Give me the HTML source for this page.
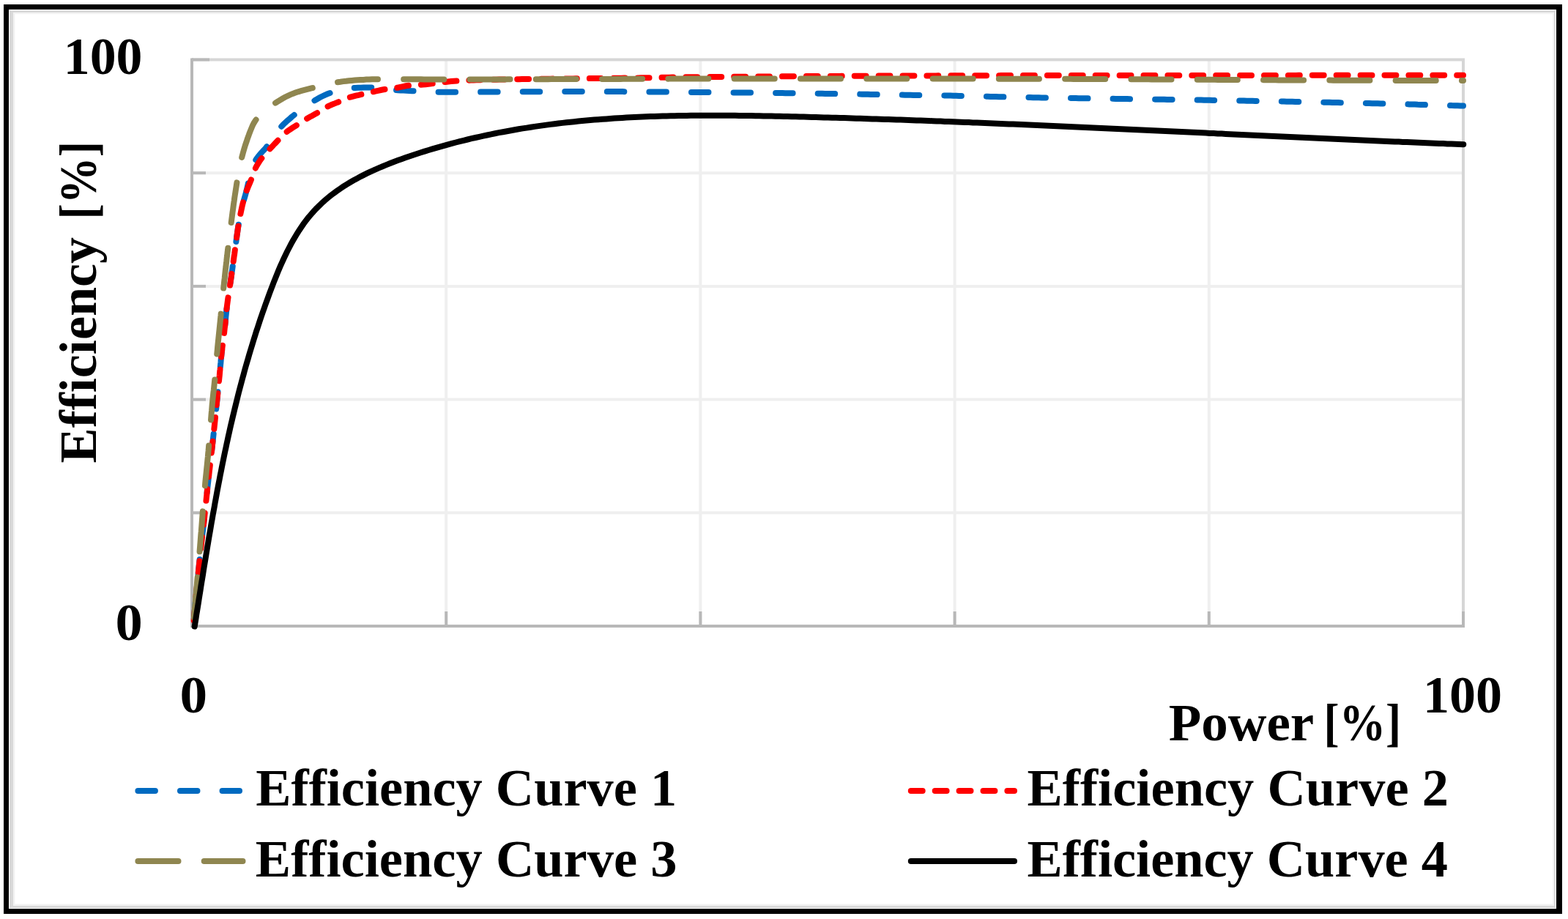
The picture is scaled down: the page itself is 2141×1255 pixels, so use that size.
<!DOCTYPE html><html><head><meta charset="utf-8"><title>Efficiency curves</title><style>html,body{margin:0;padding:0;background:#fff;width:2141px;height:1255px;overflow:hidden}svg{display:block}</style></head><body>
<svg width="2141" height="1255" viewBox="0 0 2141 1255">
<rect x="0" y="0" width="2141" height="1255" fill="#fff"/>
<path d="M5,6H2133V1248H5Z M12,13V1241H2125V13Z" fill="#000" fill-rule="evenodd"/>
<path d="M13,14H2124V1240H13Z M18,17.2V1237H2122V17.2Z" fill="#d9d9d9" fill-rule="evenodd"/>
<path d="M18,17.2H2122V1237H18Z M20.4,19.2V1234.4H2120.2V19.2Z" fill="#f2f2f2" fill-rule="evenodd"/>
<line x1="262.0" y1="700.3" x2="1998.0" y2="700.3" stroke="#efefef" stroke-width="4"/>
<line x1="262.0" y1="545.6" x2="1998.0" y2="545.6" stroke="#efefef" stroke-width="4"/>
<line x1="262.0" y1="390.9" x2="1998.0" y2="390.9" stroke="#efefef" stroke-width="4"/>
<line x1="262.0" y1="236.2" x2="1998.0" y2="236.2" stroke="#efefef" stroke-width="4"/>
<line x1="609.2" y1="81.5" x2="609.2" y2="855.0" stroke="#efefef" stroke-width="4"/>
<line x1="956.4" y1="81.5" x2="956.4" y2="855.0" stroke="#efefef" stroke-width="4"/>
<line x1="1303.6" y1="81.5" x2="1303.6" y2="855.0" stroke="#efefef" stroke-width="4"/>
<line x1="1650.8" y1="81.5" x2="1650.8" y2="855.0" stroke="#efefef" stroke-width="4"/>
<path d="M262.0,81.5H1998.0V855.0" fill="none" stroke="#d6d6d6" stroke-width="4"/>
<line x1="262.0" y1="855.0" x2="281.0" y2="855.0" stroke="#b8b8b8" stroke-width="4"/>
<line x1="262.0" y1="700.3" x2="281.0" y2="700.3" stroke="#b8b8b8" stroke-width="4"/>
<line x1="262.0" y1="545.6" x2="281.0" y2="545.6" stroke="#b8b8b8" stroke-width="4"/>
<line x1="262.0" y1="390.9" x2="281.0" y2="390.9" stroke="#b8b8b8" stroke-width="4"/>
<line x1="262.0" y1="236.2" x2="281.0" y2="236.2" stroke="#b8b8b8" stroke-width="4"/>
<line x1="262.0" y1="81.5" x2="286.0" y2="81.5" stroke="#b8b8b8" stroke-width="4"/>
<line x1="262.0" y1="855.0" x2="262.0" y2="835.0" stroke="#b8b8b8" stroke-width="4"/>
<line x1="609.2" y1="855.0" x2="609.2" y2="835.0" stroke="#b8b8b8" stroke-width="4"/>
<line x1="956.4" y1="855.0" x2="956.4" y2="835.0" stroke="#b8b8b8" stroke-width="4"/>
<line x1="1303.6" y1="855.0" x2="1303.6" y2="835.0" stroke="#b8b8b8" stroke-width="4"/>
<line x1="1650.8" y1="855.0" x2="1650.8" y2="835.0" stroke="#b8b8b8" stroke-width="4"/>
<line x1="1998.0" y1="855.0" x2="1998.0" y2="835.0" stroke="#b8b8b8" stroke-width="4"/>
<path d="M262.0,79.5V855.0H2000.0" fill="none" stroke="#b8b8b8" stroke-width="4"/>
<path d="M264.0,855.0 L264.3,851.1 L264.7,847.2 L265.0,843.4 L265.3,839.5 L265.7,835.6 L266.0,831.7 L266.4,827.9 L266.7,824.0 L267.1,820.1 L267.5,816.2 L267.8,812.4 L268.2,808.5 L268.6,804.6 L268.9,800.8 L269.3,796.9 L269.7,793.0 L270.1,789.1 L270.5,785.3 L270.8,781.4 L271.2,777.5 L271.6,773.7 L272.0,769.8 L272.4,765.9 L272.8,762.0 L273.2,758.2 L273.7,754.3 L274.1,750.4 L274.5,746.6 L275.0,742.7 L275.4,738.8 L275.9,735.0 L276.3,731.1 L276.7,727.2 L277.2,723.4 L277.6,719.5 L278.1,715.6 L278.5,711.8 L278.9,707.9 L279.4,704.0 L279.8,700.2 L280.2,696.3 L280.6,692.4 L281.0,688.6 L281.4,684.7 L281.8,680.8 L282.2,677.0 L282.6,673.1 L283.0,669.2 L283.4,665.3 L283.8,661.5 L284.3,657.6 L284.7,653.7 L285.1,649.9 L285.6,646.0 L286.0,642.2 L286.5,638.3 L286.9,634.4 L287.4,630.6 L287.8,626.7 L288.3,622.8 L288.7,619.0 L289.2,615.1 L289.6,611.2 L290.0,607.4 L290.5,603.5 L290.9,599.6 L291.3,595.8 L291.7,591.9 L292.1,588.0 L292.6,584.2 L293.0,580.3 L293.4,576.4 L293.8,572.5 L294.2,568.7 L294.5,564.8 L294.9,560.9 L295.3,557.1 L295.7,553.2 L296.1,549.3 L296.5,545.4 L296.8,541.6 L297.2,537.7 L297.6,533.8 L298.0,530.0 L298.4,526.1 L298.8,522.2 L299.2,518.3 L299.6,514.5 L299.9,510.6 L300.3,506.7 L300.7,502.9 L301.0,499.0 L301.4,495.1 L301.7,491.2 L302.1,487.4 L302.5,483.5 L303.0,479.6 L303.4,475.8 L303.9,471.9 L304.4,468.0 L304.9,464.2 L305.3,460.3 L305.8,456.5 L306.3,452.6 L306.7,448.7 L307.2,444.9 L307.6,441.0 L308.0,437.1 L308.3,433.2 L308.7,429.4 L309.1,425.5 L309.6,421.6 L310.0,417.8 L310.5,413.9 L311.0,410.1 L311.5,406.2 L312.1,402.4 L312.7,398.5 L313.3,394.7 L313.9,390.8 L314.4,387.0 L315.0,383.1 L315.6,379.3 L316.1,375.4 L316.6,371.6 L317.2,367.7 L317.7,363.9 L318.3,360.0 L318.8,356.1 L319.3,352.3 L319.9,348.4 L320.4,344.6 L321.0,340.7 L321.5,336.9 L322.0,333.0 L322.5,329.2 L323.0,325.3 L323.5,321.4 L324.1,317.6 L324.6,313.7 L325.2,309.9 L325.9,306.1 L326.5,302.2 L327.2,298.4 L327.9,294.6 L328.7,290.7 L329.5,286.9 L330.3,283.1 L331.2,279.4 L332.3,275.6 L333.4,271.9 L334.5,268.2 L335.5,264.4 L336.5,260.6 L337.4,256.8 L338.3,253.0 L339.1,249.3 L340.1,245.5 L341.0,241.7 L342.1,238.0 L343.2,234.2 L344.3,230.4 L345.6,226.7 L347.0,223.1 L348.5,219.7 L350.5,216.4 L352.8,213.4 L355.3,210.4 L358.0,207.4 L360.7,204.5 L363.3,201.5 L365.7,198.4 L367.9,195.2 L370.1,192.0 L372.2,188.7 L374.4,185.4 L376.6,182.2 L378.9,179.1 L381.3,176.1 L383.8,173.2 L386.5,170.4 L389.3,167.7 L392.2,165.1 L395.2,162.5 L398.1,159.9 L401.1,157.5 L404.2,155.0 L407.2,152.6 L410.3,150.2 L413.4,147.9 L416.6,145.6 L419.8,143.4 L423.1,141.2 L426.3,139.2 L429.7,137.2 L433.1,135.3 L436.5,133.3 L440.0,131.5 L443.5,129.8 L447.1,128.3 L450.7,127.0 L454.4,125.9 L458.1,124.7 L461.9,123.6 L465.7,122.6 L469.5,121.7 L473.4,121.0 L477.2,120.4 L481.1,120.1 L484.9,119.9 L488.8,119.8 L492.7,119.7 L496.6,119.5 L500.5,119.5 L504.4,119.4 L508.3,119.4 L512.2,119.5 L516.0,119.9 L519.9,120.4 L523.7,120.9 L527.6,121.5 L531.5,122.1 L535.3,122.6 L539.2,122.9 L543.1,123.2 L547.0,123.4 L550.9,123.6 L554.7,123.8 L558.6,124.0 L562.5,124.2 L566.4,124.4 L570.3,124.6 L574.2,124.8 L578.1,125.0 L582.0,125.3 L585.8,125.4 L589.7,125.6 L593.6,125.7 L597.5,125.7 L601.4,125.7 L605.3,125.7 L609.2,125.7 L613.1,125.7 L616.9,125.7 L620.8,125.7 L624.7,125.7 L628.6,125.7 L632.5,125.6 L636.4,125.6 L640.3,125.6 L644.2,125.6 L648.1,125.6 L652.0,125.6 L655.8,125.6 L659.7,125.5 L663.6,125.5 L667.5,125.5 L671.4,125.5 L675.3,125.5 L679.2,125.4 L683.1,125.4 L687.0,125.4 L690.9,125.4 L694.8,125.4 L698.6,125.3 L702.5,125.3 L706.4,125.3 L710.3,125.3 L714.2,125.3 L718.1,125.2 L722.0,125.2 L725.9,125.2 L729.8,125.2 L733.7,125.2 L737.6,125.2 L741.5,125.1 L745.3,125.1 L749.2,125.1 L753.1,125.1 L757.0,125.1 L760.9,125.1 L764.8,125.1 L768.7,125.0 L772.6,125.0 L776.5,125.0 L780.4,125.0 L784.3,125.0 L788.1,125.0 L792.0,125.0 L795.9,125.0 L799.8,125.0 L803.7,125.0 L807.6,125.0 L811.5,125.0 L815.4,125.0 L819.3,125.0 L823.2,125.0 L827.1,125.0 L830.9,125.1 L834.8,125.1 L838.7,125.1 L842.6,125.1 L846.5,125.1 L850.4,125.1 L854.3,125.2 L858.2,125.2 L862.1,125.2 L866.0,125.2 L869.9,125.3 L873.7,125.3 L877.6,125.3 L881.5,125.3 L885.4,125.4 L889.3,125.4 L893.2,125.4 L897.1,125.5 L901.0,125.5 L904.9,125.5 L908.8,125.6 L912.7,125.6 L916.5,125.6 L920.4,125.7 L924.3,125.7 L928.2,125.7 L932.1,125.8 L936.0,125.8 L939.9,125.8 L943.8,125.9 L947.7,125.9 L951.6,125.9 L955.4,126.0 L959.3,126.0 L963.2,126.1 L967.1,126.1 L971.0,126.1 L974.9,126.2 L978.8,126.2 L982.7,126.2 L986.6,126.3 L990.5,126.3 L994.4,126.3 L998.2,126.4 L1002.1,126.4 L1006.0,126.5 L1009.9,126.5 L1013.8,126.5 L1017.7,126.6 L1021.6,126.6 L1025.5,126.6 L1029.4,126.7 L1033.3,126.7 L1037.2,126.8 L1041.0,126.8 L1044.9,126.8 L1048.8,126.9 L1052.7,126.9 L1056.6,127.0 L1060.5,127.0 L1064.4,127.1 L1068.3,127.1 L1072.2,127.2 L1076.1,127.2 L1079.9,127.3 L1083.8,127.3 L1087.7,127.4 L1091.6,127.4 L1095.5,127.5 L1099.4,127.5 L1103.3,127.6 L1107.2,127.6 L1111.1,127.7 L1115.0,127.7 L1118.9,127.8 L1122.7,127.8 L1126.6,127.9 L1130.5,127.9 L1134.4,128.0 L1138.3,128.0 L1142.2,128.1 L1146.1,128.2 L1150.0,128.2 L1153.9,128.3 L1157.8,128.3 L1161.6,128.4 L1165.5,128.5 L1169.4,128.5 L1173.3,128.6 L1177.2,128.7 L1181.1,128.7 L1185.0,128.8 L1188.9,128.9 L1192.8,128.9 L1196.7,129.0 L1200.5,129.1 L1204.4,129.1 L1208.3,129.2 L1212.2,129.3 L1216.1,129.3 L1220.0,129.4 L1223.9,129.5 L1227.8,129.5 L1231.7,129.6 L1235.6,129.7 L1239.5,129.7 L1243.3,129.8 L1247.2,129.9 L1251.1,129.9 L1255.0,130.0 L1258.9,130.0 L1262.8,130.1 L1266.7,130.2 L1270.6,130.2 L1274.5,130.3 L1278.4,130.3 L1282.2,130.4 L1286.1,130.4 L1290.0,130.5 L1293.9,130.6 L1297.8,130.6 L1301.7,130.7 L1305.6,130.8 L1309.5,130.9 L1313.4,130.9 L1317.3,131.0 L1321.1,131.1 L1325.0,131.2 L1328.9,131.3 L1332.8,131.4 L1336.7,131.5 L1340.6,131.6 L1344.5,131.7 L1348.4,131.8 L1352.3,131.9 L1356.2,132.0 L1360.0,132.1 L1363.9,132.2 L1367.8,132.3 L1371.7,132.4 L1375.6,132.5 L1379.5,132.6 L1383.4,132.7 L1387.3,132.7 L1391.2,132.8 L1395.0,132.9 L1398.9,133.0 L1402.8,133.1 L1406.7,133.1 L1410.6,133.2 L1414.5,133.3 L1418.4,133.3 L1422.3,133.4 L1426.2,133.5 L1430.1,133.5 L1433.9,133.6 L1437.8,133.7 L1441.7,133.7 L1445.6,133.8 L1449.5,133.8 L1453.4,133.9 L1457.3,134.0 L1461.2,134.0 L1465.1,134.1 L1469.0,134.1 L1472.9,134.2 L1476.7,134.2 L1480.6,134.3 L1484.5,134.3 L1488.4,134.4 L1492.3,134.5 L1496.2,134.5 L1500.1,134.6 L1504.0,134.6 L1507.9,134.7 L1511.8,134.7 L1515.6,134.8 L1519.5,134.8 L1523.4,134.9 L1527.3,134.9 L1531.2,135.0 L1535.1,135.0 L1539.0,135.1 L1542.9,135.2 L1546.8,135.2 L1550.7,135.3 L1554.6,135.3 L1558.4,135.4 L1562.3,135.4 L1566.2,135.5 L1570.1,135.5 L1574.0,135.6 L1577.9,135.7 L1581.8,135.7 L1585.7,135.8 L1589.6,135.8 L1593.5,135.9 L1597.3,136.0 L1601.2,136.0 L1605.1,136.1 L1609.0,136.1 L1612.9,136.2 L1616.8,136.3 L1620.7,136.3 L1624.6,136.4 L1628.5,136.5 L1632.4,136.5 L1636.2,136.6 L1640.1,136.6 L1644.0,136.7 L1647.9,136.8 L1651.8,136.8 L1655.7,136.9 L1659.6,137.0 L1663.5,137.0 L1667.4,137.1 L1671.3,137.2 L1675.2,137.2 L1679.0,137.3 L1682.9,137.3 L1686.8,137.4 L1690.7,137.5 L1694.6,137.5 L1698.5,137.6 L1702.4,137.7 L1706.3,137.7 L1710.2,137.8 L1714.1,137.9 L1717.9,137.9 L1721.8,138.0 L1725.7,138.1 L1729.6,138.2 L1733.5,138.2 L1737.4,138.3 L1741.3,138.4 L1745.2,138.4 L1749.1,138.5 L1753.0,138.6 L1756.8,138.7 L1760.7,138.7 L1764.6,138.8 L1768.5,138.9 L1772.4,138.9 L1776.3,139.0 L1780.2,139.1 L1784.1,139.2 L1788.0,139.3 L1791.9,139.3 L1795.7,139.4 L1799.6,139.5 L1803.5,139.6 L1807.4,139.7 L1811.3,139.7 L1815.2,139.8 L1819.1,139.9 L1823.0,140.0 L1826.9,140.1 L1830.8,140.2 L1834.6,140.2 L1838.5,140.3 L1842.4,140.4 L1846.3,140.5 L1850.2,140.6 L1854.1,140.7 L1858.0,140.8 L1861.9,140.9 L1865.8,141.0 L1869.6,141.1 L1873.5,141.2 L1877.4,141.3 L1881.3,141.3 L1885.2,141.4 L1889.1,141.5 L1893.0,141.6 L1896.9,141.7 L1900.8,141.8 L1904.7,141.9 L1908.5,142.0 L1912.4,142.1 L1916.3,142.2 L1920.2,142.3 L1924.1,142.4 L1928.0,142.5 L1931.9,142.6 L1935.8,142.8 L1939.7,142.9 L1943.5,143.0 L1947.4,143.1 L1951.3,143.2 L1955.2,143.3 L1959.1,143.4 L1963.0,143.5 L1966.9,143.6 L1970.8,143.7 L1974.7,143.8 L1978.6,143.9 L1982.4,144.1 L1986.3,144.2 L1990.2,144.3 L1994.1,144.4 L1998.0,144.5" fill="none" stroke="#006AC0" stroke-width="8" stroke-linecap="round" stroke-dasharray="23.50 34.07" stroke-dashoffset="47.29"/>
<path d="M264.0,855.0 L264.3,851.1 L264.7,847.3 L265.0,843.4 L265.3,839.6 L265.7,835.7 L266.0,831.9 L266.4,828.0 L266.7,824.1 L267.1,820.3 L267.4,816.4 L267.8,812.6 L268.2,808.7 L268.5,804.9 L268.9,801.0 L269.3,797.2 L269.7,793.3 L270.0,789.5 L270.4,785.6 L270.8,781.8 L271.2,777.9 L271.6,774.0 L272.0,770.2 L272.4,766.3 L272.8,762.5 L273.2,758.6 L273.6,754.8 L274.0,751.0 L274.5,747.1 L274.9,743.3 L275.3,739.4 L275.8,735.6 L276.2,731.7 L276.7,727.9 L277.1,724.0 L277.6,720.2 L278.0,716.3 L278.4,712.5 L278.9,708.6 L279.3,704.8 L279.7,700.9 L280.1,697.1 L280.5,693.2 L280.9,689.4 L281.3,685.5 L281.7,681.7 L282.1,677.8 L282.5,674.0 L282.9,670.1 L283.3,666.3 L283.7,662.4 L284.2,658.6 L284.6,654.7 L285.0,650.9 L285.5,647.0 L285.9,643.2 L286.4,639.3 L286.8,635.5 L287.3,631.7 L287.7,627.8 L288.2,624.0 L288.6,620.1 L289.0,616.3 L289.5,612.4 L289.9,608.6 L290.3,604.7 L290.7,600.9 L291.2,597.0 L291.6,593.2 L292.0,589.3 L292.4,585.5 L292.8,581.6 L293.2,577.8 L293.6,573.9 L294.0,570.1 L294.4,566.2 L294.8,562.4 L295.2,558.5 L295.5,554.7 L295.9,550.8 L296.3,547.0 L296.7,543.1 L297.1,539.3 L297.5,535.4 L297.9,531.6 L298.2,527.7 L298.6,523.8 L299.0,520.0 L299.4,516.1 L299.8,512.3 L300.1,508.4 L300.5,504.6 L300.8,500.7 L301.2,496.9 L301.6,493.0 L301.9,489.2 L302.3,485.3 L302.7,481.5 L303.2,477.6 L303.6,473.8 L304.1,469.9 L304.6,466.1 L305.1,462.2 L305.6,458.4 L306.1,454.6 L306.5,450.7 L306.9,446.9 L307.4,443.0 L307.8,439.2 L308.1,435.3 L308.5,431.5 L308.9,427.6 L309.3,423.8 L309.7,419.9 L310.2,416.1 L310.7,412.2 L311.2,408.4 L311.8,404.6 L312.4,400.7 L313.0,396.9 L313.5,393.1 L314.1,389.3 L314.7,385.4 L315.2,381.6 L315.8,377.8 L316.3,373.9 L316.9,370.1 L317.4,366.3 L317.9,362.4 L318.5,358.6 L319.0,354.7 L319.5,350.9 L320.1,347.1 L320.6,343.2 L321.1,339.4 L321.7,335.6 L322.2,331.7 L322.7,327.9 L323.2,324.1 L323.7,320.2 L324.3,316.4 L324.8,312.6 L325.4,308.7 L326.1,304.9 L326.7,301.1 L327.4,297.3 L328.1,293.5 L328.9,289.7 L329.7,285.9 L330.5,282.1 L331.4,278.4 L332.4,274.6 L333.5,270.9 L334.6,267.2 L335.7,263.5 L337.0,259.8 L338.4,256.2 L339.9,252.7 L341.4,249.1 L342.9,245.5 L344.3,241.9 L345.6,238.2 L346.8,234.5 L348.3,230.9 L349.9,227.5 L351.9,224.1 L354.0,220.8 L356.2,217.6 L358.5,214.6 L361.0,211.6 L363.6,208.7 L366.2,205.9 L368.8,203.0 L371.5,200.2 L374.1,197.4 L376.8,194.6 L379.5,191.8 L382.2,189.0 L384.9,186.2 L387.6,183.4 L390.5,180.9 L393.5,178.5 L396.7,176.4 L400.0,174.2 L403.3,172.2 L406.5,170.0 L409.8,167.9 L413.0,165.8 L416.3,163.7 L419.6,161.7 L423.0,159.8 L426.4,158.0 L429.8,156.1 L433.2,154.2 L436.5,152.2 L439.7,150.1 L443.0,148.0 L446.3,146.0 L449.7,144.3 L453.3,142.8 L456.9,141.4 L460.5,139.9 L464.1,138.5 L467.6,136.9 L471.2,135.2 L474.7,133.7 L478.4,132.6 L482.1,131.6 L485.9,130.6 L489.7,129.8 L493.5,128.9 L497.2,128.1 L501.0,127.2 L504.8,126.4 L508.6,125.6 L512.4,124.7 L516.1,123.9 L519.9,123.0 L523.7,122.3 L527.5,121.6 L531.4,121.1 L535.2,120.7 L539.1,120.3 L542.9,119.7 L546.7,118.9 L550.5,118.1 L554.3,117.3 L558.1,116.8 L562.0,116.5 L565.8,116.3 L569.7,116.1 L573.6,115.9 L577.4,115.6 L581.3,115.2 L585.1,114.8 L589.0,114.3 L592.8,113.9 L596.7,113.4 L600.5,112.9 L604.4,112.4 L608.2,111.9 L612.0,111.5 L615.9,111.1 L619.7,110.8 L623.6,110.6 L627.5,110.3 L631.3,110.1 L635.2,109.9 L639.1,109.7 L643.0,109.5 L646.8,109.4 L650.7,109.3 L654.6,109.2 L658.4,109.1 L662.3,109.0 L666.2,108.9 L670.0,108.8 L673.9,108.7 L677.8,108.7 L681.7,108.6 L685.5,108.5 L689.4,108.5 L693.3,108.4 L697.1,108.3 L701.0,108.3 L704.9,108.2 L708.8,108.2 L712.6,108.1 L716.5,108.1 L720.4,108.0 L724.2,108.0 L728.1,107.9 L732.0,107.9 L735.9,107.8 L739.7,107.8 L743.6,107.8 L747.5,107.7 L751.3,107.7 L755.2,107.6 L759.1,107.6 L763.0,107.6 L766.8,107.5 L770.7,107.5 L774.6,107.5 L778.4,107.4 L782.3,107.4 L786.2,107.3 L790.1,107.3 L793.9,107.3 L797.8,107.2 L801.7,107.2 L805.5,107.1 L809.4,107.1 L813.3,107.1 L817.2,107.0 L821.0,107.0 L824.9,106.9 L828.8,106.9 L832.6,106.8 L836.5,106.8 L840.4,106.8 L844.3,106.7 L848.1,106.7 L852.0,106.6 L855.9,106.6 L859.7,106.5 L863.6,106.5 L867.5,106.4 L871.4,106.4 L875.2,106.3 L879.1,106.3 L883.0,106.2 L886.8,106.2 L890.7,106.1 L894.6,106.1 L898.5,106.0 L902.3,105.9 L906.2,105.8 L910.1,105.8 L913.9,105.7 L917.8,105.6 L921.7,105.6 L925.6,105.5 L929.4,105.4 L933.3,105.4 L937.2,105.3 L941.0,105.3 L944.9,105.2 L948.8,105.2 L952.7,105.2 L956.5,105.1 L960.4,105.1 L964.3,105.1 L968.1,105.0 L972.0,105.0 L975.9,105.0 L979.8,104.9 L983.6,104.9 L987.5,104.9 L991.4,104.9 L995.2,104.8 L999.1,104.8 L1003.0,104.8 L1006.9,104.7 L1010.7,104.7 L1014.6,104.7 L1018.5,104.7 L1022.3,104.6 L1026.2,104.6 L1030.1,104.6 L1034.0,104.6 L1037.8,104.5 L1041.7,104.5 L1045.6,104.5 L1049.4,104.5 L1053.3,104.4 L1057.2,104.4 L1061.1,104.4 L1064.9,104.4 L1068.8,104.3 L1072.7,104.3 L1076.5,104.3 L1080.4,104.3 L1084.3,104.2 L1088.2,104.2 L1092.0,104.2 L1095.9,104.2 L1099.8,104.1 L1103.6,104.1 L1107.5,104.1 L1111.4,104.1 L1115.3,104.0 L1119.1,104.0 L1123.0,104.0 L1126.9,104.0 L1130.7,104.0 L1134.6,103.9 L1138.5,103.9 L1142.4,103.9 L1146.2,103.9 L1150.1,103.8 L1154.0,103.8 L1157.8,103.8 L1161.7,103.8 L1165.6,103.8 L1169.5,103.7 L1173.3,103.7 L1177.2,103.7 L1181.1,103.7 L1184.9,103.7 L1188.8,103.6 L1192.7,103.6 L1196.6,103.6 L1200.4,103.6 L1204.3,103.6 L1208.2,103.6 L1212.0,103.6 L1215.9,103.5 L1219.8,103.5 L1223.7,103.5 L1227.5,103.5 L1231.4,103.5 L1235.3,103.5 L1239.2,103.5 L1243.0,103.5 L1246.9,103.4 L1250.8,103.4 L1254.6,103.4 L1258.5,103.4 L1262.4,103.4 L1266.3,103.4 L1270.1,103.4 L1274.0,103.4 L1277.9,103.4 L1281.7,103.3 L1285.6,103.3 L1289.5,103.3 L1293.4,103.3 L1297.2,103.3 L1301.1,103.3 L1305.0,103.3 L1308.8,103.3 L1312.7,103.3 L1316.6,103.3 L1320.5,103.2 L1324.3,103.2 L1328.2,103.2 L1332.1,103.2 L1335.9,103.2 L1339.8,103.2 L1343.7,103.2 L1347.6,103.2 L1351.4,103.2 L1355.3,103.2 L1359.2,103.2 L1363.0,103.2 L1366.9,103.1 L1370.8,103.1 L1374.7,103.1 L1378.5,103.1 L1382.4,103.1 L1386.3,103.1 L1390.1,103.1 L1394.0,103.1 L1397.9,103.1 L1401.8,103.1 L1405.6,103.1 L1409.5,103.1 L1413.4,103.1 L1417.2,103.1 L1421.1,103.1 L1425.0,103.1 L1428.9,103.1 L1432.7,103.1 L1436.6,103.1 L1440.5,103.1 L1444.3,103.0 L1448.2,103.0 L1452.1,103.0 L1456.0,103.0 L1459.8,103.0 L1463.7,103.0 L1467.6,103.0 L1471.5,103.0 L1475.3,103.0 L1479.2,103.0 L1483.1,103.0 L1486.9,103.0 L1490.8,103.0 L1494.7,103.0 L1498.6,103.0 L1502.4,103.0 L1506.3,103.0 L1510.2,103.0 L1514.0,103.0 L1517.9,103.0 L1521.8,103.0 L1525.7,103.0 L1529.5,103.0 L1533.4,103.0 L1537.3,103.0 L1541.1,103.0 L1545.0,103.0 L1548.9,103.0 L1552.8,103.0 L1556.6,103.0 L1560.5,102.9 L1564.4,102.9 L1568.2,102.9 L1572.1,102.9 L1576.0,102.9 L1579.9,102.9 L1583.7,102.9 L1587.6,102.9 L1591.5,102.9 L1595.3,102.9 L1599.2,102.9 L1603.1,102.9 L1607.0,102.9 L1610.8,102.9 L1614.7,102.9 L1618.6,102.9 L1622.4,102.9 L1626.3,102.9 L1630.2,102.9 L1634.1,102.9 L1637.9,102.9 L1641.8,102.9 L1645.7,102.9 L1649.5,102.9 L1653.4,102.9 L1657.3,102.9 L1661.2,102.9 L1665.0,102.9 L1668.9,102.9 L1672.8,102.9 L1676.7,102.9 L1680.5,102.9 L1684.4,102.9 L1688.3,102.9 L1692.1,102.9 L1696.0,102.9 L1699.9,102.9 L1703.8,102.9 L1707.6,102.9 L1711.5,102.9 L1715.4,102.9 L1719.2,102.9 L1723.1,102.9 L1727.0,102.9 L1730.9,102.9 L1734.7,102.9 L1738.6,102.9 L1742.5,102.9 L1746.3,102.9 L1750.2,102.9 L1754.1,102.9 L1758.0,102.9 L1761.8,102.9 L1765.7,102.9 L1769.6,102.9 L1773.4,102.8 L1777.3,102.8 L1781.2,102.8 L1785.1,102.8 L1788.9,102.8 L1792.8,102.8 L1796.7,102.8 L1800.5,102.8 L1804.4,102.8 L1808.3,102.8 L1812.2,102.8 L1816.0,102.8 L1819.9,102.8 L1823.8,102.8 L1827.6,102.8 L1831.5,102.8 L1835.4,102.8 L1839.3,102.8 L1843.1,102.8 L1847.0,102.8 L1850.9,102.8 L1854.7,102.8 L1858.6,102.8 L1862.5,102.8 L1866.4,102.8 L1870.2,102.8 L1874.1,102.8 L1878.0,102.8 L1881.8,102.8 L1885.7,102.8 L1889.6,102.8 L1893.5,102.8 L1897.3,102.8 L1901.2,102.8 L1905.1,102.8 L1909.0,102.8 L1912.8,102.8 L1916.7,102.8 L1920.6,102.8 L1924.4,102.8 L1928.3,102.8 L1932.2,102.8 L1936.1,102.8 L1939.9,102.8 L1943.8,102.8 L1947.7,102.8 L1951.5,102.8 L1955.4,102.8 L1959.3,102.8 L1963.2,102.8 L1967.0,102.8 L1970.9,102.8 L1974.8,102.8 L1978.6,102.8 L1982.5,102.8 L1986.4,102.8 L1990.3,102.8 L1994.1,102.8 L1998.0,102.8" fill="none" stroke="#FF0000" stroke-width="8" stroke-linecap="round" stroke-dasharray="15.90 17.00" stroke-dashoffset="25.33"/>
<path d="M264.0,855.0 L264.3,851.1 L264.7,847.1 L265.0,843.2 L265.3,839.3 L265.7,835.4 L266.0,831.4 L266.3,827.5 L266.7,823.6 L267.0,819.7 L267.3,815.7 L267.7,811.8 L268.0,807.9 L268.3,803.9 L268.7,800.0 L269.0,796.1 L269.3,792.2 L269.7,788.2 L270.0,784.3 L270.3,780.4 L270.6,776.4 L271.0,772.5 L271.3,768.6 L271.6,764.7 L271.9,760.7 L272.3,756.8 L272.6,752.9 L272.9,748.9 L273.2,745.0 L273.5,741.1 L273.8,737.2 L274.1,733.2 L274.4,729.3 L274.8,725.4 L275.1,721.4 L275.4,717.5 L275.7,713.6 L276.0,709.6 L276.3,705.7 L276.6,701.8 L276.9,697.9 L277.2,693.9 L277.6,690.0 L277.9,686.1 L278.2,682.1 L278.6,678.2 L278.9,674.3 L279.2,670.4 L279.6,666.4 L280.0,662.5 L280.3,658.6 L280.7,654.7 L281.1,650.7 L281.5,646.8 L281.9,642.9 L282.3,639.0 L282.7,635.1 L283.1,631.1 L283.5,627.2 L283.9,623.3 L284.2,619.4 L284.6,615.4 L284.9,611.5 L285.2,607.6 L285.5,603.6 L285.9,599.7 L286.2,595.8 L286.5,591.9 L286.8,587.9 L287.1,584.0 L287.5,580.1 L287.8,576.1 L288.1,572.2 L288.4,568.3 L288.7,564.4 L289.1,560.4 L289.4,556.5 L289.7,552.6 L290.1,548.6 L290.5,544.7 L290.9,540.8 L291.3,536.9 L291.8,533.0 L292.2,529.1 L292.6,525.1 L293.0,521.2 L293.4,517.3 L293.7,513.4 L294.0,509.4 L294.4,505.5 L294.7,501.6 L295.0,497.6 L295.4,493.7 L295.7,489.8 L296.0,485.9 L296.4,481.9 L296.8,478.0 L297.1,474.1 L297.5,470.2 L297.9,466.2 L298.3,462.3 L298.7,458.4 L299.1,454.5 L299.5,450.6 L299.9,446.6 L300.3,442.7 L300.7,438.8 L301.1,434.9 L301.5,430.9 L301.8,427.0 L302.2,423.1 L302.6,419.2 L303.0,415.3 L303.4,411.3 L303.8,407.4 L304.2,403.5 L304.6,399.6 L305.0,395.6 L305.4,391.7 L305.8,387.8 L306.2,383.9 L306.7,380.0 L307.1,376.0 L307.5,372.1 L307.9,368.2 L308.4,364.3 L308.8,360.4 L309.3,356.5 L309.7,352.5 L310.2,348.6 L310.6,344.7 L311.1,340.8 L311.5,336.9 L312.0,333.0 L312.5,329.0 L313.0,325.1 L313.5,321.2 L314.0,317.3 L314.5,313.4 L315.0,309.5 L315.5,305.6 L316.0,301.7 L316.5,297.8 L317.0,293.9 L317.5,290.0 L318.1,286.0 L318.6,282.1 L319.1,278.2 L319.7,274.3 L320.2,270.4 L320.8,266.5 L321.4,262.6 L322.0,258.7 L322.6,254.8 L323.2,250.9 L323.8,247.1 L324.5,243.2 L325.2,239.3 L325.9,235.4 L326.6,231.5 L327.4,227.6 L328.2,223.8 L329.0,219.9 L329.9,216.1 L330.9,212.3 L331.9,208.5 L333.0,204.7 L334.1,200.9 L335.3,197.1 L336.6,193.4 L337.8,189.7 L339.2,186.0 L340.5,182.2 L342.0,178.4 L343.5,174.7 L345.1,171.0 L346.9,167.6 L348.9,164.4 L351.1,161.4 L353.6,158.4 L356.4,155.6 L359.4,152.9 L362.6,150.4 L365.8,147.9 L369.0,145.5 L372.2,143.2 L375.4,141.0 L378.8,138.9 L382.1,136.8 L385.6,134.7 L389.1,132.8 L392.6,131.0 L396.2,129.4 L399.8,127.9 L403.4,126.6 L407.2,125.3 L411.0,124.2 L414.8,123.2 L418.6,122.2 L422.5,121.2 L426.3,120.2 L430.1,119.2 L433.9,118.1 L437.7,117.1 L441.6,116.1 L445.4,115.1 L449.2,114.3 L453.1,113.5 L456.9,112.9 L460.8,112.2 L464.7,111.7 L468.6,111.1 L472.6,110.7 L476.5,110.2 L480.4,109.9 L484.4,109.6 L488.3,109.3 L492.2,109.1 L496.2,108.9 L500.1,108.6 L504.0,108.5 L508.0,108.3 L511.9,108.2 L515.9,108.2 L519.8,108.2 L523.7,108.2 L527.7,108.2 L531.6,108.2 L535.6,108.2 L539.5,108.2 L543.5,108.2 L547.4,108.2 L551.3,108.2 L555.3,108.2 L559.2,108.2 L563.2,108.3 L567.1,108.3 L571.0,108.3 L575.0,108.3 L578.9,108.4 L582.9,108.4 L586.8,108.4 L590.8,108.5 L594.7,108.5 L598.6,108.5 L602.6,108.5 L606.5,108.5 L610.5,108.5 L614.4,108.5 L618.3,108.5 L622.3,108.5 L626.2,108.5 L630.2,108.5 L634.1,108.5 L638.1,108.5 L642.0,108.5 L645.9,108.5 L649.9,108.5 L653.8,108.4 L657.8,108.4 L661.7,108.4 L665.6,108.4 L669.6,108.4 L673.5,108.4 L677.5,108.4 L681.4,108.4 L685.4,108.4 L689.3,108.4 L693.2,108.3 L697.2,108.3 L701.1,108.3 L705.1,108.3 L709.0,108.3 L713.0,108.3 L716.9,108.3 L720.8,108.3 L724.8,108.2 L728.7,108.2 L732.7,108.2 L736.6,108.2 L740.5,108.2 L744.5,108.2 L748.4,108.2 L752.4,108.1 L756.3,108.1 L760.3,108.1 L764.2,108.1 L768.1,108.1 L772.1,108.1 L776.0,108.1 L780.0,108.1 L783.9,108.0 L787.8,108.0 L791.8,108.0 L795.7,108.0 L799.7,108.0 L803.6,108.0 L807.6,108.0 L811.5,108.0 L815.4,108.0 L819.4,107.9 L823.3,107.9 L827.3,107.9 L831.2,107.9 L835.1,107.9 L839.1,107.9 L843.0,107.9 L847.0,107.9 L850.9,107.8 L854.9,107.8 L858.8,107.8 L862.7,107.8 L866.7,107.8 L870.6,107.8 L874.6,107.8 L878.5,107.8 L882.5,107.7 L886.4,107.7 L890.3,107.7 L894.3,107.7 L898.2,107.7 L902.2,107.7 L906.1,107.7 L910.0,107.7 L914.0,107.6 L917.9,107.6 L921.9,107.6 L925.8,107.6 L929.8,107.6 L933.7,107.6 L937.6,107.6 L941.6,107.6 L945.5,107.6 L949.5,107.6 L953.4,107.5 L957.3,107.5 L961.3,107.5 L965.2,107.5 L969.2,107.5 L973.1,107.5 L977.1,107.5 L981.0,107.5 L984.9,107.5 L988.9,107.5 L992.8,107.5 L996.8,107.5 L1000.7,107.5 L1004.6,107.5 L1008.6,107.5 L1012.5,107.5 L1016.5,107.5 L1020.4,107.5 L1024.4,107.5 L1028.3,107.5 L1032.2,107.5 L1036.2,107.5 L1040.1,107.5 L1044.1,107.5 L1048.0,107.5 L1052.0,107.5 L1055.9,107.5 L1059.8,107.5 L1063.8,107.5 L1067.7,107.5 L1071.7,107.5 L1075.6,107.5 L1079.5,107.5 L1083.5,107.5 L1087.4,107.5 L1091.4,107.5 L1095.3,107.5 L1099.3,107.5 L1103.2,107.5 L1107.1,107.5 L1111.1,107.5 L1115.0,107.5 L1119.0,107.5 L1122.9,107.5 L1126.8,107.5 L1130.8,107.5 L1134.7,107.5 L1138.7,107.5 L1142.6,107.5 L1146.6,107.5 L1150.5,107.5 L1154.4,107.5 L1158.4,107.5 L1162.3,107.5 L1166.3,107.5 L1170.2,107.5 L1174.2,107.5 L1178.1,107.5 L1182.0,107.5 L1186.0,107.5 L1189.9,107.5 L1193.9,107.5 L1197.8,107.6 L1201.7,107.6 L1205.7,107.6 L1209.6,107.6 L1213.6,107.6 L1217.5,107.6 L1221.5,107.6 L1225.4,107.6 L1229.3,107.6 L1233.3,107.6 L1237.2,107.6 L1241.2,107.6 L1245.1,107.6 L1249.0,107.6 L1253.0,107.6 L1256.9,107.6 L1260.9,107.6 L1264.8,107.6 L1268.8,107.6 L1272.7,107.6 L1276.6,107.6 L1280.6,107.6 L1284.5,107.6 L1288.5,107.6 L1292.4,107.6 L1296.3,107.6 L1300.3,107.6 L1304.2,107.6 L1308.2,107.6 L1312.1,107.6 L1316.1,107.6 L1320.0,107.6 L1323.9,107.6 L1327.9,107.6 L1331.8,107.6 L1335.8,107.6 L1339.7,107.6 L1343.7,107.6 L1347.6,107.7 L1351.5,107.7 L1355.5,107.7 L1359.4,107.7 L1363.4,107.7 L1367.3,107.7 L1371.2,107.7 L1375.2,107.7 L1379.1,107.7 L1383.1,107.7 L1387.0,107.7 L1391.0,107.7 L1394.9,107.7 L1398.8,107.7 L1402.8,107.7 L1406.7,107.7 L1410.7,107.7 L1414.6,107.7 L1418.5,107.7 L1422.5,107.7 L1426.4,107.7 L1430.4,107.8 L1434.3,107.8 L1438.3,107.8 L1442.2,107.8 L1446.1,107.8 L1450.1,107.8 L1454.0,107.8 L1458.0,107.8 L1461.9,107.8 L1465.9,107.9 L1469.8,107.9 L1473.7,107.9 L1477.7,107.9 L1481.6,107.9 L1485.6,107.9 L1489.5,108.0 L1493.4,108.0 L1497.4,108.0 L1501.3,108.0 L1505.3,108.0 L1509.2,108.1 L1513.2,108.1 L1517.1,108.1 L1521.0,108.1 L1525.0,108.1 L1528.9,108.1 L1532.9,108.2 L1536.8,108.2 L1540.7,108.2 L1544.7,108.2 L1548.6,108.2 L1552.6,108.3 L1556.5,108.3 L1560.5,108.3 L1564.4,108.3 L1568.3,108.3 L1572.3,108.4 L1576.2,108.4 L1580.2,108.4 L1584.1,108.4 L1588.0,108.4 L1592.0,108.5 L1595.9,108.5 L1599.9,108.5 L1603.8,108.5 L1607.8,108.5 L1611.7,108.6 L1615.6,108.6 L1619.6,108.6 L1623.5,108.6 L1627.5,108.6 L1631.4,108.7 L1635.3,108.7 L1639.3,108.7 L1643.2,108.7 L1647.2,108.8 L1651.1,108.8 L1655.1,108.8 L1659.0,108.8 L1662.9,108.9 L1666.9,108.9 L1670.8,108.9 L1674.8,108.9 L1678.7,109.0 L1682.7,109.0 L1686.6,109.0 L1690.5,109.0 L1694.5,109.1 L1698.4,109.1 L1702.4,109.1 L1706.3,109.1 L1710.2,109.2 L1714.2,109.2 L1718.1,109.2 L1722.1,109.2 L1726.0,109.3 L1730.0,109.3 L1733.9,109.3 L1737.8,109.3 L1741.8,109.3 L1745.7,109.4 L1749.7,109.4 L1753.6,109.4 L1757.5,109.4 L1761.5,109.4 L1765.4,109.5 L1769.4,109.5 L1773.3,109.5 L1777.3,109.5 L1781.2,109.5 L1785.1,109.5 L1789.1,109.6 L1793.0,109.6 L1797.0,109.6 L1800.9,109.6 L1804.8,109.6 L1808.8,109.6 L1812.7,109.6 L1816.7,109.6 L1820.6,109.7 L1824.6,109.7 L1828.5,109.7 L1832.4,109.7 L1836.4,109.7 L1840.3,109.7 L1844.3,109.7 L1848.2,109.7 L1852.2,109.7 L1856.1,109.8 L1860.0,109.8 L1864.0,109.8 L1867.9,109.8 L1871.9,109.8 L1875.8,109.8 L1879.7,109.8 L1883.7,109.8 L1887.6,109.8 L1891.6,109.8 L1895.5,109.9 L1899.5,109.9 L1903.4,109.9 L1907.3,109.9 L1911.3,109.9 L1915.2,109.9 L1919.2,109.9 L1923.1,109.9 L1927.0,109.9 L1931.0,109.9 L1934.9,109.9 L1938.9,109.9 L1942.8,109.9 L1946.8,110.0 L1950.7,110.0 L1954.6,110.0 L1958.6,110.0 L1962.5,110.0 L1966.5,110.0 L1970.4,110.0 L1974.3,110.0 L1978.3,110.0 L1982.2,110.0 L1986.2,110.0 L1990.1,110.0 L1994.1,110.0 L1998.0,110.0" fill="none" stroke="#8F8650" stroke-width="8" stroke-linecap="round" stroke-dasharray="55.10 35.20" stroke-dashoffset="78.53"/>
<path d="M265.7,855.5 L266.6,850.0 L267.5,844.5 L268.3,839.0 L269.2,833.5 L270.1,828.0 L271.0,822.5 L271.8,817.1 L272.7,811.6 L273.6,806.1 L274.4,800.7 L275.3,795.2 L276.2,789.8 L277.1,784.3 L277.9,778.9 L278.8,773.4 L279.7,768.0 L280.6,762.5 L281.5,757.1 L282.4,751.7 L283.3,746.2 L284.2,740.8 L285.1,735.4 L286.0,730.0 L287.0,724.6 L287.9,719.2 L288.8,713.7 L289.8,708.3 L290.7,702.9 L291.7,697.5 L292.7,692.2 L293.6,686.8 L294.6,681.4 L295.6,676.0 L296.6,670.6 L297.6,665.2 L298.6,659.9 L299.7,654.5 L300.7,649.1 L301.8,643.8 L302.8,638.4 L303.9,633.0 L305.0,627.7 L306.1,622.3 L307.2,617.0 L308.4,611.6 L309.5,606.3 L310.7,600.9 L311.8,595.6 L313.0,590.3 L314.2,584.9 L315.4,579.6 L316.7,574.3 L317.9,569.0 L319.2,563.7 L320.5,558.3 L321.8,553.0 L323.1,547.7 L324.4,542.4 L325.7,537.1 L327.1,531.8 L328.5,526.5 L329.9,521.2 L331.3,515.9 L332.8,510.6 L334.2,505.3 L335.7,500.0 L337.2,494.8 L338.8,489.5 L340.3,484.2 L341.9,478.9 L343.5,473.6 L345.1,468.4 L346.7,463.1 L348.4,457.8 L350.0,452.6 L351.8,447.3 L353.5,442.1 L355.2,436.8 L357.0,431.5 L358.8,426.3 L360.7,421.0 L362.5,415.8 L364.4,410.6 L366.3,405.3 L368.2,400.1 L370.2,394.8 L372.2,389.6 L374.2,384.4 L376.3,379.2 L378.4,374.0 L380.5,368.8 L382.7,363.7 L385.0,358.6 L387.3,353.5 L389.7,348.5 L392.1,343.5 L394.7,338.5 L397.2,333.6 L399.9,328.8 L402.7,324.0 L405.5,319.3 L408.4,314.7 L411.4,310.2 L414.5,305.7 L417.7,301.4 L421.0,297.1 L424.5,293.0 L428.0,289.0 L431.6,285.1 L435.4,281.3 L439.2,277.6 L443.2,274.0 L447.3,270.5 L451.4,267.2 L455.7,263.9 L460.0,260.8 L464.4,257.7 L468.9,254.7 L473.4,251.8 L478.1,249.0 L482.8,246.3 L487.6,243.7 L492.4,241.1 L497.3,238.6 L502.2,236.2 L507.2,233.8 L512.2,231.6 L517.3,229.3 L522.4,227.2 L527.5,225.1 L532.7,223.0 L537.9,221.0 L543.1,219.1 L548.3,217.2 L553.6,215.3 L558.9,213.5 L564.1,211.7 L569.4,210.0 L574.7,208.3 L579.9,206.6 L585.2,205.0 L590.5,203.4 L595.8,201.8 L601.1,200.3 L606.4,198.8 L611.8,197.3 L617.1,195.9 L622.4,194.5 L627.7,193.1 L633.1,191.8 L638.4,190.5 L643.8,189.2 L649.1,188.0 L654.5,186.8 L659.8,185.6 L665.2,184.5 L670.6,183.3 L675.9,182.3 L681.3,181.2 L686.7,180.2 L692.1,179.2 L697.5,178.2 L702.8,177.2 L708.2,176.3 L713.6,175.4 L719.1,174.6 L724.5,173.7 L729.9,172.9 L735.3,172.1 L740.7,171.4 L746.1,170.6 L751.6,169.9 L757.0,169.2 L762.4,168.6 L767.9,167.9 L773.3,167.3 L778.7,166.7 L784.2,166.2 L789.6,165.6 L795.1,165.1 L800.5,164.6 L806.0,164.1 L811.5,163.6 L816.9,163.2 L822.4,162.8 L827.9,162.4 L833.3,162.0 L838.8,161.6 L844.3,161.3 L849.8,160.9 L855.2,160.6 L860.7,160.3 L866.2,160.1 L871.7,159.8 L877.2,159.6 L882.7,159.3 L888.2,159.1 L893.7,158.9 L899.2,158.8 L904.7,158.6 L910.2,158.4 L915.7,158.3 L921.2,158.2 L926.7,158.1 L932.2,158.0 L937.7,157.9 L943.2,157.8 L948.7,157.8 L954.2,157.7 L959.7,157.7 L965.2,157.7 L970.7,157.7 L976.2,157.7 L981.7,157.7 L987.3,157.7 L992.8,157.7 L998.3,157.8 L1003.8,157.8 L1009.3,157.9 L1014.8,157.9 L1020.3,158.0 L1025.9,158.1 L1031.4,158.2 L1036.9,158.3 L1042.4,158.4 L1047.9,158.5 L1053.4,158.6 L1058.9,158.7 L1064.5,158.8 L1070.0,158.9 L1075.5,159.1 L1081.0,159.2 L1086.5,159.3 L1092.0,159.5 L1097.5,159.6 L1103.0,159.8 L1108.6,159.9 L1114.1,160.0 L1119.6,160.2 L1125.1,160.4 L1130.6,160.5 L1136.1,160.7 L1141.6,160.8 L1147.1,161.0 L1152.6,161.1 L1158.1,161.3 L1163.6,161.5 L1169.1,161.7 L1174.6,161.8 L1180.1,162.0 L1185.6,162.2 L1191.1,162.4 L1196.6,162.5 L1202.1,162.7 L1207.6,162.9 L1213.1,163.1 L1218.6,163.3 L1224.1,163.5 L1229.6,163.6 L1235.1,163.8 L1240.6,164.0 L1246.1,164.2 L1251.5,164.4 L1257.0,164.6 L1262.5,164.8 L1268.0,165.0 L1273.5,165.2 L1279.0,165.4 L1284.5,165.6 L1290.0,165.9 L1295.5,166.1 L1300.9,166.3 L1306.4,166.5 L1311.9,166.7 L1317.4,166.9 L1322.9,167.1 L1328.4,167.4 L1333.9,167.6 L1339.3,167.8 L1344.8,168.0 L1350.3,168.2 L1355.8,168.5 L1361.3,168.7 L1366.8,168.9 L1372.2,169.2 L1377.7,169.4 L1383.2,169.6 L1388.7,169.8 L1394.2,170.1 L1399.7,170.3 L1405.1,170.5 L1410.6,170.8 L1416.1,171.0 L1421.6,171.3 L1427.1,171.5 L1432.5,171.7 L1438.0,172.0 L1443.5,172.2 L1449.0,172.5 L1454.5,172.7 L1459.9,173.0 L1465.4,173.2 L1470.9,173.4 L1476.4,173.7 L1481.9,173.9 L1487.3,174.2 L1492.8,174.4 L1498.3,174.7 L1503.8,174.9 L1509.3,175.2 L1514.7,175.4 L1520.2,175.7 L1525.7,175.9 L1531.2,176.2 L1536.7,176.5 L1542.1,176.7 L1547.6,177.0 L1553.1,177.2 L1558.6,177.5 L1564.1,177.7 L1569.5,178.0 L1575.0,178.2 L1580.5,178.5 L1586.0,178.8 L1591.5,179.0 L1596.9,179.3 L1602.4,179.5 L1607.9,179.8 L1613.4,180.0 L1618.9,180.3 L1624.3,180.6 L1629.8,180.8 L1635.3,181.1 L1640.8,181.3 L1646.3,181.6 L1651.8,181.9 L1657.2,182.1 L1662.7,182.4 L1668.2,182.6 L1673.7,182.9 L1679.2,183.2 L1684.7,183.4 L1690.1,183.7 L1695.6,183.9 L1701.1,184.2 L1706.6,184.4 L1712.1,184.7 L1717.6,185.0 L1723.1,185.2 L1728.6,185.5 L1734.0,185.7 L1739.5,186.0 L1745.0,186.2 L1750.5,186.5 L1756.0,186.8 L1761.5,187.0 L1767.0,187.3 L1772.5,187.5 L1778.0,187.8 L1783.5,188.0 L1789.0,188.3 L1794.5,188.5 L1799.9,188.8 L1805.4,189.0 L1810.9,189.3 L1816.4,189.5 L1821.9,189.8 L1827.4,190.0 L1832.9,190.3 L1838.4,190.5 L1843.9,190.8 L1849.4,191.0 L1854.9,191.3 L1860.4,191.5 L1865.9,191.7 L1871.4,192.0 L1876.9,192.2 L1882.5,192.5 L1888.0,192.7 L1893.5,192.9 L1899.0,193.2 L1904.5,193.4 L1910.0,193.6 L1915.5,193.9 L1921.0,194.1 L1926.5,194.3 L1932.0,194.6 L1937.5,194.8 L1943.1,195.0 L1948.6,195.3 L1954.1,195.5 L1959.6,195.7 L1965.1,195.9 L1970.6,196.1 L1976.2,196.4 L1981.7,196.6 L1987.2,196.8 L1992.7,197.0 L1998.3,197.2" fill="none" stroke="#000" stroke-width="8" stroke-linecap="round"/>
<text x="86.8" y="101.0" font-family="Liberation Serif, serif" font-weight="bold" font-size="72" textLength="107.7" lengthAdjust="spacingAndGlyphs">100</text>
<text x="157.5" y="874.0" font-family="Liberation Serif, serif" font-weight="bold" font-size="72" textLength="37.2" lengthAdjust="spacingAndGlyphs">0</text>
<text x="245.5" y="973.2" font-family="Liberation Serif, serif" font-weight="bold" font-size="72" textLength="37.6" lengthAdjust="spacingAndGlyphs">0</text>
<text x="1943.0" y="973.2" font-family="Liberation Serif, serif" font-weight="bold" font-size="72" textLength="108.0" lengthAdjust="spacingAndGlyphs">100</text>
<text x="1595.7" y="1011.0" font-family="Liberation Serif, serif" font-weight="bold" font-size="72" textLength="198.5" lengthAdjust="spacingAndGlyphs">Power</text>
<text x="1807.6" y="1011.0" font-family="Liberation Serif, serif" font-weight="bold" font-size="72" textLength="105.6" lengthAdjust="spacingAndGlyphs">[%]</text>
<text x="0" y="0" transform="translate(130.5,632.4) rotate(-90)" font-family="Liberation Serif, serif" font-weight="bold" font-size="72" textLength="308.6" lengthAdjust="spacingAndGlyphs">Efficiency</text>
<text x="0" y="0" transform="translate(130.5,299.5) rotate(-90)" font-family="Liberation Serif, serif" font-weight="bold" font-size="72" textLength="106.4" lengthAdjust="spacingAndGlyphs">[%]</text>
<line x1="188.4" y1="1080" x2="331.5" y2="1080" stroke="#006AC0" stroke-width="8" stroke-linecap="round" stroke-dasharray="23.50 34.07"/>
<line x1="188.4" y1="1176" x2="331.5" y2="1176" stroke="#8F8650" stroke-width="8" stroke-linecap="round" stroke-dasharray="55.10 35.20"/>
<line x1="1243.8" y1="1080" x2="1385" y2="1080" stroke="#FF0000" stroke-width="8" stroke-linecap="round" stroke-dasharray="15.90 17.00"/>
<line x1="1243.8" y1="1176" x2="1385" y2="1176" stroke="#000" stroke-width="8" stroke-linecap="round"/>
<text x="349.3" y="1100.0" font-family="Liberation Serif, serif" font-weight="bold" font-size="72" textLength="574.8" lengthAdjust="spacingAndGlyphs">Efficiency Curve 1</text>
<text x="348.8" y="1197.0" font-family="Liberation Serif, serif" font-weight="bold" font-size="72" textLength="575.7" lengthAdjust="spacingAndGlyphs">Efficiency Curve 3</text>
<text x="1402.5" y="1100.0" font-family="Liberation Serif, serif" font-weight="bold" font-size="72" textLength="575.4" lengthAdjust="spacingAndGlyphs">Efficiency Curve 2</text>
<text x="1402.5" y="1197.0" font-family="Liberation Serif, serif" font-weight="bold" font-size="72" textLength="574.4" lengthAdjust="spacingAndGlyphs">Efficiency Curve 4</text>
</svg></body></html>
